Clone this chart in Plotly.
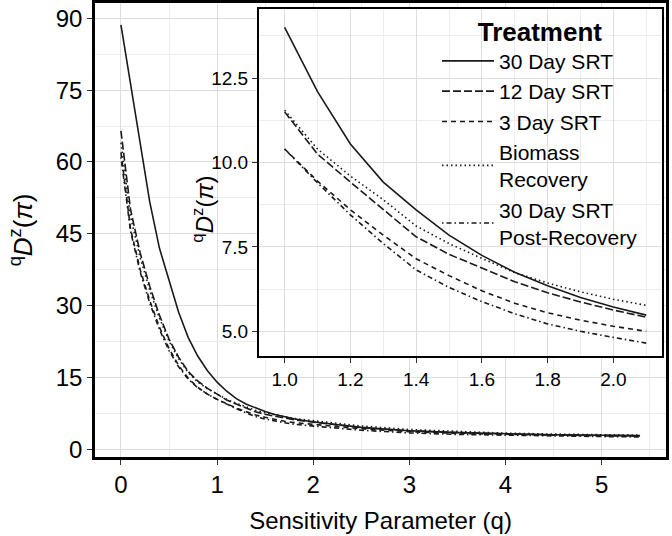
import plotly.graph_objects as go

# Sensitivity parameter q
q = [0.0, 0.1, 0.2, 0.3, 0.4, 0.5, 0.6, 0.7, 0.8, 0.9,
     1.0, 1.1, 1.2, 1.3, 1.4, 1.5, 1.6, 1.7, 1.8, 1.9, 2.0, 2.1,
     2.5, 3.0, 3.5, 4.0, 4.5, 5.0, 5.4]

srt30 = [88.6, 76.3, 63.9, 51.6, 42.0, 35.5, 28.6, 23.3, 19.4, 16.4,
         14.0, 12.1, 10.55, 9.42, 8.6, 7.85, 7.25, 6.75, 6.35, 6.0, 5.72, 5.48,
         4.55, 3.85, 3.45, 3.2, 3.02, 2.9, 2.82]
srt12 = [66.5, 50.0, 41.0, 34.0, 28.0, 23.0, 19.2, 16.2, 14.2, 12.7,
         11.5, 10.25, 9.42, 8.6, 7.8, 7.28, 6.88, 6.47, 6.14, 5.87, 5.63, 5.42,
         4.5, 3.82, 3.42, 3.17, 3.0, 2.88, 2.8]
srt3 = [62.0, 46.0, 37.5, 31.0, 25.5, 21.0, 17.5, 14.8, 12.9, 11.5,
        10.4, 9.45, 8.6, 7.85, 7.15, 6.65, 6.2, 5.83, 5.55, 5.33, 5.15, 5.0,
        4.25, 3.65, 3.3, 3.07, 2.92, 2.8, 2.72]
biomass = [64.0, 48.5, 40.0, 33.2, 27.4, 22.6, 18.9, 16.0, 14.0, 12.6,
           11.55, 10.4, 9.6, 8.9, 8.12, 7.6, 7.16, 6.74, 6.43, 6.17, 5.95, 5.77,
           4.85, 4.1, 3.65, 3.35, 3.15, 3.0, 2.92]
post = [61.0, 45.5, 37.0, 30.5, 25.0, 20.6, 17.2, 14.6, 12.8, 11.5,
        10.4, 9.4, 8.45, 7.6, 6.82, 6.3, 5.88, 5.52, 5.22, 5.0, 4.82, 4.65,
        3.95, 3.4, 3.08, 2.88, 2.74, 2.63, 2.56]

names = ["30 Day SRT", "12 Day SRT", "3 Day SRT", "Biomass<br>Recovery",
         "30 Day SRT<br>Post-Recovery"]
series = [srt30, srt12, srt3, biomass, post]
dashes = ["solid", "8px,3px", "5px,4px", "1.5px,3px", "1.5px,3px,5px,3px"]

main_x_ticks = [0, 1, 2, 3, 4, 5]
main_y_ticks = [0, 15, 30, 45, 60, 75, 90]
inset_x_ticks = [1.0, 1.2, 1.4, 1.6, 1.8, 2.0]
inset_y_ticks = [5.0, 7.5, 10.0, 12.5]

YTITLE = "<sup>q</sup><i>D</i><sup>z</sup>(<i>π</i>)"
FONT = "Liberation Sans, Arial, Helvetica, sans-serif"
LINE = "#1a1a1a"
LW = 1.6

fig = go.Figure()

for name, ys, d in zip(names, series, dashes):
    fig.add_trace(go.Scatter(x=q, y=ys, mode="lines", name=name,
                             line=dict(color=LINE, width=LW, dash=d),
                             xaxis="x", yaxis="y", showlegend=True))

qi = [v for v in q if 1.0 <= v <= 2.1]
for name, ys, d in zip(names, series, dashes):
    yi = [y for v, y in zip(q, ys) if 1.0 <= v <= 2.1]
    fig.add_trace(go.Scatter(x=qi, y=yi, mode="lines", name=name,
                             line=dict(color=LINE, width=LW, dash=d),
                             xaxis="x2", yaxis="y2", showlegend=False))

W, H = 672, 536
def fx(px):
    return px / W
def fy(px):
    return 1 - px / H

grid_major = "#DEDEDE"
grid_minor = "#EDEDED"

common_axis = dict(showline=True, mirror=True, linecolor="black",
                   ticks="outside", ticklen=5, tickcolor="#333333", tickwidth=1,
                   showgrid=True, gridcolor=grid_major, gridwidth=1,
                   zeroline=False)

fig.update_layout(
    width=W, height=H,
    margin=dict(l=0, r=0, t=0, b=0),
    paper_bgcolor="white", plot_bgcolor="white",
    font=dict(family=FONT, color="black"),
    xaxis=dict(domain=[fx(95), fx(666)], range=[-0.27, 5.67],
               tickvals=main_x_ticks, tickfont=dict(size=24),
               minor=dict(dtick=0.5, tick0=0, showgrid=True, gridcolor=grid_minor, ticks=""),
               linewidth=2.5,
               title=dict(text="Sensitivity Parameter (q)", font=dict(size=24), standoff=15),
               anchor="y", **common_axis),
    yaxis=dict(domain=[fy(462), fy(3)], range=[-1.6, 93.2],
               tickvals=main_y_ticks, tickfont=dict(size=24),
               minor=dict(dtick=7.5, tick0=0, showgrid=True, gridcolor=grid_minor, ticks=""),
               linewidth=2.5,
               title=dict(text=YTITLE, font=dict(size=26), standoff=16),
               anchor="x", **common_axis),
    xaxis2=dict(domain=[fx(259), fx(662)], range=[0.922, 2.148],
                tickvals=inset_x_ticks, tickformat=".1f", tickfont=dict(size=19),
                minor=dict(dtick=0.1, tick0=0, showgrid=True, gridcolor=grid_minor, ticks=""),
                linewidth=2,
                anchor="y2", **common_axis),
    yaxis2=dict(domain=[fy(360), fy(9)], range=[4.27, 14.55],
                tickvals=inset_y_ticks, tickformat=".1f", tickfont=dict(size=19),
                minor=dict(dtick=1.25, tick0=0, showgrid=True, gridcolor=grid_minor, ticks=""),
                linewidth=2,
                anchor="x2", **common_axis),
    legend=dict(x=fx(437), y=fy(7), xanchor="left", yanchor="top",
                bgcolor="rgba(0,0,0,0)", borderwidth=0,
                font=dict(size=21, family=FONT),
                title=dict(text="<b>Treatment</b>", side="top center", font=dict(size=26)),
                itemwidth=52, tracegroupgap=0),
    annotations=[dict(text=YTITLE, xref="paper", yref="paper",
                      x=fx(203), y=fy(212), xanchor="center", yanchor="middle",
                      textangle=-90, showarrow=False, font=dict(size=24))],
)

fig.write_html("out.html", config={"displayModeBar": False},
               post_script="document.body.style.margin='0';document.body.style.overflow='hidden';")
